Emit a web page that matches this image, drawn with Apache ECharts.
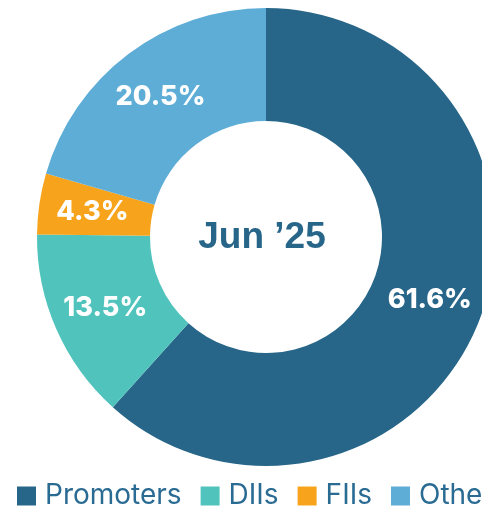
<!DOCTYPE html>
<html>
<head>
<meta charset="utf-8">
<script src="https://cdn.jsdelivr.net/npm/echarts@6/dist/echarts.min.js"></script>
<style>
  html, body { margin: 0; padding: 0; background: #fff; }
  #holding-pie { width: 482px; height: 506px; }
</style>
</head>
<body>
<div id="holding-pie"></div>
<script>
// shareholding pattern, Jun '25
const categories = ['Promoters', 'DIIs', 'FIIs', 'Others']
const shares = [61.6, 13.5, 4.3, 20.5]
const colors = ['#276689', '#50c4bc', '#f7a41c', '#5eadd7']
const centerLabel = 'Jun \u201925'

let myChart = echarts.init(document.getElementById('holding-pie'))
myChart.setOption({
  animation: false,
  color: colors,
  graphic: [
    {
      type: 'text',
      x: 262,
      y: 238,
      style: {
        text: centerLabel,
        align: 'center',
        verticalAlign: 'middle',
        fontFamily: 'Liberation Sans',
        fontWeight: 'bold',
        fontSize: 37,
        fill: '#276689'
      }
    }
  ],
  legend: {
    left: 12,
    top: 477,
    width: 2000,
    icon: 'rect',
    itemWidth: 19,
    itemHeight: 19,
    itemGap: 19,
    data: categories,
    textStyle: {
      fontFamily: 'Inter',
      fontSize: 28,
      color: '#2a6b93',
      padding: [0, 0, 0, 4]
    }
  },
  series: [
    {
      type: 'pie',
      center: [266, 237],
      radius: [116, 229],
      startAngle: 90,
      clockwise: true,
      avoidLabelOverlap: false,
      label: {
        show: true,
        position: 'inside',
        formatter: p => p.value.toFixed(1) + '%',
        fontFamily: 'Inter',
        fontWeight: 800,
        fontSize: 27,
        color: '#fff'
      },
      labelLine: { show: false },
      itemStyle: { borderWidth: 0 },
      emphasis: { disabled: true },
      data: categories.map((name, i) => ({ name: name, value: shares[i] }))
    }
  ]
})
</script>
</body>
</html>
